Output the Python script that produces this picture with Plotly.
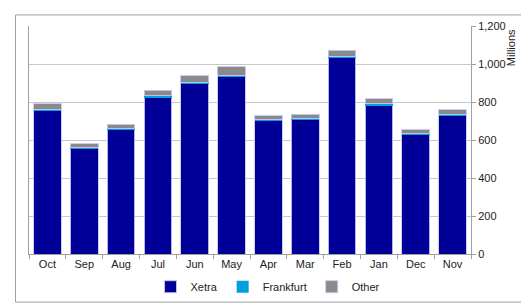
import plotly.graph_objects as go

months = ["Oct", "Sep", "Aug", "Jul", "Jun", "May", "Apr", "Mar", "Feb", "Jan", "Dec", "Nov"]
xetra = [755, 555, 657, 826, 898, 932, 701, 708, 1034, 784, 628, 730]
frankfurt = [7, 5, 6, 8, 7, 7, 6, 6, 7, 6, 5, 5]
other = [28, 20, 21, 29, 32, 46, 21, 21, 31, 26, 22, 25]
y_ticks = [0, 200, 400, 600, 800, 1000, 1200]

W, H = 529, 305
L, R, T, B = 21, 66, 16, 52
pw, ph = W - L - R, H - T - B

def px_x(x):
    return (x - L) / pw

def px_y(y):
    return (H - B - y) / ph

font = "Liberation Sans, Arial, sans-serif"
line_col = "rgba(200,200,240,0.9)"

fig = go.Figure()
fig.add_bar(x=months, y=xetra, name="Xetra", marker=dict(color="#000099", line=dict(color=line_col, width=1)))
fig.add_bar(x=months, y=frankfurt, name="Frankfurt", marker=dict(color="#00a0dc", line=dict(width=0)))
fig.add_bar(x=months, y=other, name="Other", marker=dict(color="#8a8a8a", line=dict(color=line_col, width=1)))

fig.update_layout(
    width=W, height=H,
    margin=dict(l=L, r=R, t=T, b=B),
    barmode="stack", bargap=0.25,
    paper_bgcolor="white", plot_bgcolor="white",
    font=dict(family=font, size=11, color="#222222"),
    showlegend=True,
    legend=dict(orientation="h", x=px_x(260), xanchor="center", y=px_y(287), yanchor="middle",
                font=dict(size=11), itemwidth=30, traceorder="normal", bgcolor="rgba(0,0,0,0)"),
    xaxis=dict(showline=True, linecolor="#a0a0a0", linewidth=1, ticks="outside", tickson="boundaries",
               ticklen=4, tickcolor="#a0a0a0", showgrid=False, tickfont=dict(size=11)),
    yaxis=dict(side="right", range=[0, 1200], tickvals=y_ticks, tickformat=",d",
               showline=True, mirror=True, linecolor="#a0a0a0", linewidth=1,
               ticks="outside", ticklen=4, tickcolor="#a0a0a0",
               showgrid=True, gridcolor="#c8c8c8", gridwidth=1, zeroline=False,
               tickfont=dict(size=11)),
    shapes=[dict(type="rect", xref="paper", yref="paper",
                 x0=px_x(7.5), x1=px_x(540), y0=px_y(303), y1=px_y(4.5),
                 line=dict(color="#a0a0a0", width=1), layer="below")],
    annotations=[dict(text="Millions", xref="paper", yref="paper", x=px_x(503), y=px_y(38),
                      textangle=-90, showarrow=False, font=dict(size=11, color="#222222"),
                      xanchor="center", yanchor="middle")],
)

fig.write_html("out.html")
